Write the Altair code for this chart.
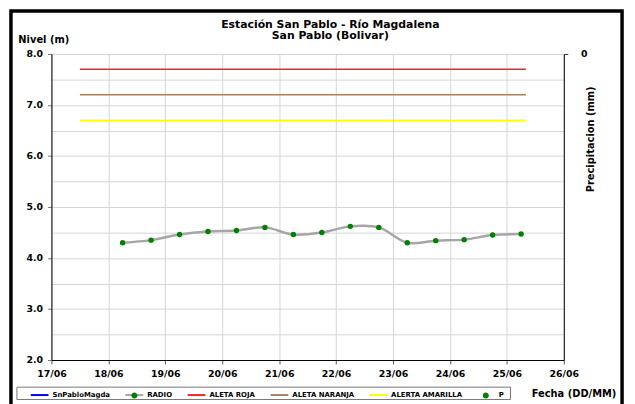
import altair as alt
import pandas as pd

# ---------------- data ----------------
fechas = [
    "2024-06-18T06:00:00", "2024-06-18T18:00:00",
    "2024-06-19T06:00:00", "2024-06-19T18:00:00",
    "2024-06-20T06:00:00", "2024-06-20T18:00:00",
    "2024-06-21T06:00:00", "2024-06-21T18:00:00",
    "2024-06-22T06:00:00", "2024-06-22T18:00:00",
    "2024-06-23T06:00:00", "2024-06-23T18:00:00",
    "2024-06-24T06:00:00", "2024-06-24T18:00:00",
    "2024-06-25T06:00:00",
]
nivel = [4.30, 4.35, 4.46, 4.52, 4.54, 4.60, 4.46, 4.50, 4.62, 4.60,
         4.30, 4.34, 4.36, 4.45, 4.47]

umbral_nombres = ["ALETA ROJA", "ALETA NARANJA", "ALERTA AMARILLA"]
umbral_valores = [7.7, 7.2, 6.7]
umbral_colores = ["#ff2020", "#a8805e", "#ffff00"]
umbral_inicio = "2024-06-17T12:00:00"
umbral_fin = "2024-06-25T08:00:00"

precip_fechas = []
precip_valores = []

serie_nombres = ["SnPabloMagda", "RADIO", "ALETA ROJA", "ALETA NARANJA",
                 "ALERTA AMARILLA", "P"]
serie_trazo = ["#0000ff", "#a6a6a6", "#ff2020", "#a8805e", "#ffff00", "transparent"]
serie_relleno = ["transparent", "#008000", "transparent", "transparent",
                 "transparent", "#008000"]

dias = [alt.DateTime(year=2024, month=6, date=d) for d in range(17, 27)]
niveles_grid = [2 + 0.5 * i for i in range(13)]

FONT = "DejaVu Sans"

# ---------------- tables ----------------
df_nivel = pd.DataFrame({"fecha": fechas, "nivel": nivel})
df_umbral = pd.DataFrame({
    "serie": umbral_nombres,
    "valor": umbral_valores,
    "inicio": [umbral_inicio] * len(umbral_nombres),
    "fin": [umbral_fin] * len(umbral_nombres),
})
df_precip = pd.DataFrame({"fecha": pd.Series(precip_fechas, dtype=str),
                          "p": pd.Series(precip_valores, dtype=float)})
df_leyenda = pd.DataFrame({"serie": serie_nombres,
                           "clave": ["_" + s for s in serie_nombres]})

x_scale = alt.Scale(domain=[dias[0], dias[-1]], nice=False)
y_scale = alt.Scale(domain=[2, 8], nice=False, zero=False)

x_axis = alt.Axis(
    values=dias, format="%d/%m", labelFlush=False, grid=True,
    gridColor="#d4d4d4", domainColor="black", tickColor="#555555",
    tickSize=4, labelPadding=5, labelFont=FONT, labelFontSize=9.5,
    labelFontWeight="bold", labelColor="black",
    title="Fecha (DD/MM)", titleFont=FONT, titleFontSize=10,
    titleFontWeight="bold", titleColor="black", titleX=486, titleY=34,
    titleAlign="left", titleBaseline="middle", titleAngle=0,
)
y_axis = alt.Axis(
    values=niveles_grid,
    labelExpr="datum.value % 1 ? '' : format(datum.value, '.1f')",
    tickOpacity={"condition": {"test": "datum.value % 1 !== 0", "value": 0}, "value": 1},
    grid=True, gridColor="#d4d4d4", domainColor="black", tickColor="#777777",
    tickSize=4, labelPadding=5, labelFont=FONT, labelFontSize=9.5,
    labelFontWeight="bold", labelColor="black",
    title="Nivel (m)", titleFont=FONT, titleFontSize=10, titleFontWeight="bold",
    titleColor="black", titleAngle=0, titleX=-34, titleY=-15,
    titleAlign="left", titleBaseline="middle",
)

base_x = alt.X("fecha:T", scale=x_scale, axis=x_axis)

umbrales = alt.Chart(df_umbral).mark_rule(strokeWidth=1.5).encode(
    x=alt.X("inicio:T", scale=x_scale, axis=x_axis),
    x2="fin:T",
    y=alt.Y("valor:Q", scale=y_scale, axis=y_axis),
    color=alt.Color("serie:N",
                    scale=alt.Scale(domain=umbral_nombres, range=umbral_colores),
                    legend=None),
)

linea = alt.Chart(df_nivel).mark_line(
    interpolate="catmull-rom", color="#a6a6a6", strokeWidth=2.5
).encode(
    x=base_x,
    y=alt.Y("nivel:Q", scale=y_scale, axis=y_axis),
)

puntos = alt.Chart(df_nivel).mark_circle(color="#008000", size=30, opacity=1).encode(
    x=base_x,
    y=alt.Y("nivel:Q", scale=y_scale, axis=y_axis),
)

leg_common = dict(
    orient="none", legendX=-22, legendY=335.5, direction="horizontal",
    columns=6, title=None, symbolSize=324, symbolStrokeWidth=2,
    symbolOpacity=1, labelFont=FONT, labelFontSize=7, labelFontWeight="bold",
    labelOffset=3, columnPadding=11, padding=0,
)

leyenda_lineas = alt.Chart(df_leyenda).mark_point(clip=True, opacity=1).encode(
    x=alt.value(-300), y=alt.value(-300),
    stroke=alt.Stroke("serie:N",
                      scale=alt.Scale(domain=serie_nombres, range=serie_trazo),
                      legend=alt.Legend(symbolType="stroke", labelColor="black",
                                        **leg_common)),
)

dot_path = ("M-1,0L1,0M-0.34,0A0.34,0.34,0,1,1,0.34,0"
            "A0.34,0.34,0,1,1,-0.34,0Z")
leyenda_puntos = alt.Chart(df_leyenda).mark_point(
    clip=True, opacity=1, filled=True
).encode(
    x=alt.value(-300), y=alt.value(-300),
    fill=alt.Fill("clave:N",
                  scale=alt.Scale(domain=["_" + s for s in serie_nombres],
                                  range=serie_relleno),
                  legend=alt.Legend(symbolType=dot_path,
                                    symbolStrokeColor="transparent",
                                    labelExpr="slice(datum.label, 1)",
                                    labelColor="black", labelOpacity=0,
                                    **leg_common)),
)

marco = alt.Chart(pd.DataFrame({"k": [0]})).mark_rect(
    fill="transparent", stroke="black", strokeWidth=3.5
).encode(x=alt.value(-41), x2=alt.value(578), y=alt.value(-43.5), y2=alt.value(372))

caja_leyenda = alt.Chart(pd.DataFrame({"k": [0]})).mark_rect(
    fill="transparent", stroke="#777777", strokeWidth=1
).encode(x=alt.value(-35), x2=alt.value(465), y=alt.value(337.5), y2=alt.value(350))

izquierda = alt.layer(umbrales, linea, puntos, leyenda_lineas, leyenda_puntos,
                      marco, caja_leyenda)

derecha = alt.Chart(df_precip).mark_point(color="#008000", filled=True).encode(
    x=base_x,
    y=alt.Y("p:Q", scale=alt.Scale(domain=[0, 10], reverse=True, nice=False),
            axis=alt.Axis(
                orient="right", values=[0], grid=False, domainColor="black",
                tickColor="#333333", tickSize=4, labelPadding=13,
                labelFont=FONT, labelFontSize=9.5, labelFontWeight="bold",
                labelColor="black",
                title="Precipitacion (mm)", titleFont=FONT, titleFontSize=10,
                titleFontWeight="bold", titleColor="black", titleAngle=270,
                titleX=27, titleY=86, titleAlign="center",
                titleBaseline="middle")),
)

chart = alt.layer(izquierda, derecha).resolve_scale(y="independent").properties(
    width=519, height=310,
    autosize=alt.AutoSizeParams(type="none"),
    padding={"left": 44, "top": 44, "right": 64, "bottom": 42},
    title=alt.TitleParams(
        text=["Estación San Pablo - Río Magdalena", "San Pablo (Bolivar)"],
        font=FONT, fontSize=11, fontWeight="bold", color="black",
        anchor="middle", frame="group", dx=23, dy=32.5, offset=0, lineHeight=12,
    ),
).configure_view(stroke="#a0a0a0", strokeWidth=1).configure(background="white")

chart.save("out.html", embed_options={"renderer": "svg", "actions": False})
